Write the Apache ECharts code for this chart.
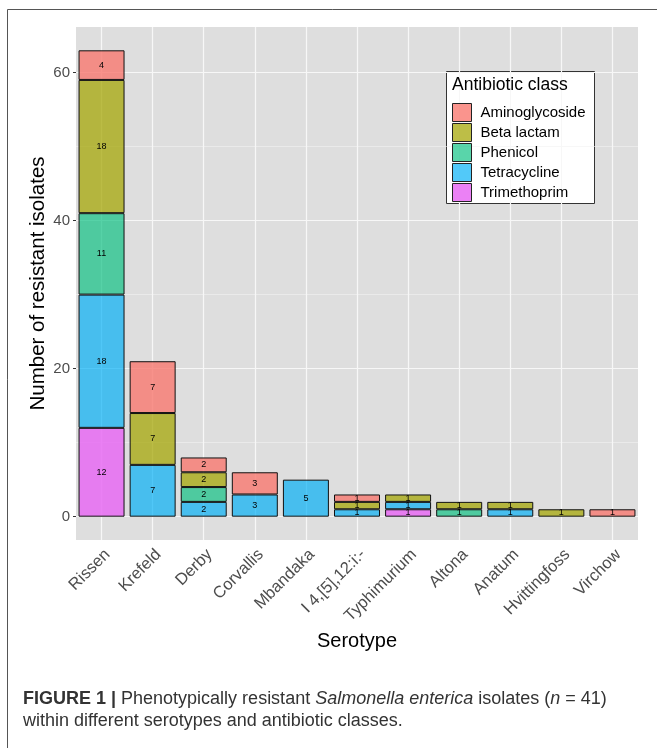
<!DOCTYPE html>
<html>
<head>
<meta charset="utf-8">
<script src="https://cdn.jsdelivr.net/npm/echarts@6/dist/echarts.min.js"></script>
<style>html,body{margin:0;padding:0;background:#fff;}#c{width:657px;height:748px;}</style>
</head>
<body>
<div id="c"></div>
<script>
const categories = ['Rissen','Krefeld','Derby','Corvallis','Mbandaka','I 4,[5],12:i:-','Typhimurium','Altona','Anatum','Hvittingfoss','Virchow'];
const trimethoprim   = [12, null, null, null, null, null, 1, null, null, null, null];
const tetracycline   = [18, 7, 2, 3, 5, 1, 1, null, 1, null, null];
const phenicol       = [11, null, 2, null, null, null, null, 1, null, null, null];
const betaLactam     = [18, 7, 2, null, null, 1, 1, 1, 1, 1, null];
const aminoglycoside = [4, 7, 2, 3, null, 1, null, null, null, null, 1];
const yTicks = [0, 20, 40, 60];
const yMinor = [10, 30, 50];
const legendOrder = ['Aminoglycoside','Beta lactam','Phenicol','Tetracycline','Trimethoprim'];

const colors = {
  'Aminoglycoside': 'rgba(248,118,109,0.78)',
  'Beta lactam': 'rgba(163,165,0,0.72)',
  'Phenicol': 'rgba(0,191,125,0.65)',
  'Tetracycline': 'rgba(0,176,246,0.68)',
  'Trimethoprim': 'rgba(231,107,243,0.85)'
};

const chart = echarts.init(document.getElementById('c'), null, {renderer: 'canvas'});
const FONT = "'Liberation Sans', 'Arimo', Arial, sans-serif";

function barSeries(name, data) {
  return {
    name: name, type: 'bar', stack: 'total', data: data, barWidth: '90%', z: 3,
    itemStyle: {color: colors[name], borderColor: '#111', borderWidth: 1},
    label: {show: true, position: 'inside', color: '#000', fontSize: 9, fontFamily: FONT,
      formatter: p => (p.value == null ? '' : String(p.value))}
  };
}

const gridLines = [];
yMinor.forEach(v => gridLines.push({yAxis: v, lineStyle: {color: '#f2f2f2', width: 0.6, type: 'solid'}}));
yTicks.forEach(v => gridLines.push({yAxis: v, lineStyle: {color: '#f7f7f7', width: 1.2, type: 'solid'}}));
categories.forEach(c => gridLines.push({xAxis: c, lineStyle: {color: '#f7f7f7', width: 1.2, type: 'solid'}}));

const option = {
  animation: false,
  grid: {left: 76, right: 19, top: 27, bottom: 208, show: true, backgroundColor: '#dedede', borderWidth: 0, containLabel: false},
  xAxis: {
    type: 'category', data: categories,
    axisLine: {show: false},
    axisTick: {show: true, alignWithLabel: true, length: 3, lineStyle: {color: '#333'}},
    axisLabel: {rotate: 45, margin: 6, color: '#4d4d4d', fontSize: 16.5, fontFamily: FONT, interval: 0,
      align: 'right', verticalAlign: 'top'},
    splitLine: {show: false},
    name: 'Serotype', nameLocation: 'middle', nameGap: 91,
    nameTextStyle: {color: '#000', fontSize: 20, fontFamily: FONT}
  },
  yAxis: {
    type: 'value', min: -3.15, max: 66.15,
    axisLine: {show: false},
    axisTick: {show: true, length: 3, lineStyle: {color: '#333'}, customValues: yTicks},
    axisLabel: {color: '#4d4d4d', fontSize: 15, fontFamily: FONT, margin: 6, customValues: yTicks},
    splitLine: {show: false},
    name: 'Number of resistant isolates', nameLocation: 'middle', nameGap: 27, nameRotate: 90,
    nameMoveOverlap: false,
    nameTextStyle: {color: '#000', fontSize: 20.5, fontFamily: FONT}
  },
  legend: {
    data: legendOrder, orient: 'vertical', left: 452, top: 103,
    itemWidth: 19, itemHeight: 18, itemGap: 1, icon: 'rect',
    itemStyle: {borderColor: '#222', borderWidth: 1},
    textStyle: {color: '#000', fontSize: 15, fontFamily: FONT, padding: [0, 0, 0, 4]},
    selectedMode: false, padding: 0
  },
  graphic: [
    {type: 'rect', z: 100, silent: true, shape: {x: 7.5, y: 9.5, width: 700, height: 800},
      style: {fill: 'none', stroke: '#555', lineWidth: 1}},
    {type: 'rect', z: 1, silent: true, shape: {x: 446.5, y: 71.5, width: 148, height: 132},
      style: {fill: '#fff', stroke: '#333', lineWidth: 1}},
    {type: 'text', z: 100, left: 452, top: 76,
      style: {text: 'Antibiotic class', fill: '#000', fontSize: 17.5, fontFamily: FONT}},
    {type: 'text', z: 100, left: 23, top: 688,
      style: {
        text: '{b|FIGURE 1 |} Phenotypically resistant {i|Salmonella enterica} isolates ({i|n} = 41)\nwithin different serotypes and antibiotic classes.',
        fill: '#333', fontSize: 18, lineHeight: 22, fontFamily: FONT,
        rich: {
          b: {fontWeight: 'bold', fontSize: 18, fill: '#333', fontFamily: FONT},
          i: {fontStyle: 'italic', fontSize: 18, fill: '#333', fontFamily: FONT}
        }
      }}
  ],
  series: [
    {type: 'line', name: 'grid', data: [], z: 1, silent: true, legendHoverLink: false,
      markLine: {z: 1, silent: true, symbol: 'none', label: {show: false}, animation: false, data: gridLines}},
    barSeries('Trimethoprim', trimethoprim),
    barSeries('Tetracycline', tetracycline),
    barSeries('Phenicol', phenicol),
    barSeries('Beta lactam', betaLactam),
    barSeries('Aminoglycoside', aminoglycoside)
  ]
};
chart.setOption(option);
</script>
</body>
</html>
